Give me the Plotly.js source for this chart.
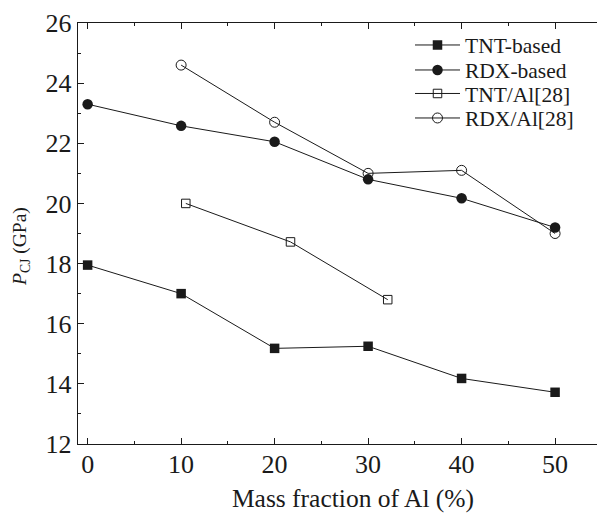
<!DOCTYPE html>
<html><head><meta charset="utf-8">
<script src="https://cdn.plot.ly/plotly-3.0.1.min.js"></script>
<style>html,body{margin:0;background:#fff;overflow:hidden}#chart{width:630px;height:513px}</style>
</head><body><div id="chart"></div>
<script>
const tntX = [0, 10, 20, 30, 40, 50];
const tntY = [17.95, 17.0, 15.18, 15.25, 14.18, 13.72];
const rdxX = [0, 10, 20, 30, 40, 50];
const rdxY = [23.3, 22.58, 22.05, 20.8, 20.17, 19.2];
const tntAlX = [10.5, 21.7, 32.1];
const tntAlY = [20.0, 18.72, 16.8];
const rdxAlX = [10, 20, 30, 40, 50];
const rdxAlY = [24.6, 22.7, 21.0, 21.1, 19.0];
const names = ['TNT-based', 'RDX-based', 'TNT/Al[28]', 'RDX/Al[28]'];
const xTicks = [0, 10, 20, 30, 40, 50];
const yTicks = [12, 14, 16, 18, 20, 22, 24, 26];
const xTitle = 'Mass fraction of Al (%)';
const yTitle = '<i>P</i><sub>CJ</sub> (GPa)';

const ink = '#1a1a1a';
const lineStyle = {color: ink, width: 1};
const traces = [
  {x: tntX, y: tntY, name: names[0], mode: 'lines+markers', line: lineStyle, legend: 'legend',
   marker: {symbol: 'square', size: 9.5, color: ink}},
  {x: rdxX, y: rdxY, name: names[1], mode: 'lines+markers', line: lineStyle, legend: 'legend2',
   marker: {symbol: 'circle', size: 10.5, color: ink}},
  {x: tntAlX, y: tntAlY, name: names[2], mode: 'lines+markers', line: lineStyle, legend: 'legend3',
   marker: {symbol: 'square-open', size: 8.5, color: ink, line: {width: 1}}},
  {x: rdxAlX, y: rdxAlY, name: names[3], mode: 'lines+markers', line: lineStyle, legend: 'legend4',
   marker: {symbol: 'circle-open', size: 10, color: ink, line: {width: 1}}}
];

const fam = '"Liberation Serif", "Times New Roman", serif';
const f = (s) => ({family: fam, size: s, color: ink});
// plot area: left 78px, width 550px; top 23px, height 421px
const px2x = (p) => (p - 78) / 550;
const px2y = (p) => 1 - (p - 23) / 421;
const leg = (yc) => ({x: px2x(410), y: px2y(yc), xanchor: 'left', yanchor: 'middle',
  bgcolor: 'rgba(0,0,0,0)', font: f(21.5), itemwidth: 45, borderwidth: 0});

const layout = {
  width: 630, height: 513,
  margin: {l: 78, r: 2, t: 23, b: 69},
  paper_bgcolor: '#fff', plot_bgcolor: '#fff',
  font: f(24),
  showlegend: true,
  legend: leg(45), legend2: leg(70), legend3: leg(93.5), legend4: leg(118),
  xaxis: {
    range: [-1.03, 57.8], tickvals: xTicks, ticks: 'inside', ticklen: 6,
    tickwidth: 1, tickcolor: ink, showline: true, linecolor: ink, linewidth: 1.2,
    mirror: 'ticks', showgrid: false, zeroline: false, ticklabelstandoff: -3,
    minor: {dtick: 5, tick0: 0, ticks: 'inside', ticklen: 3, tickcolor: ink},
    tickfont: f(26),
    title: {text: xTitle, font: f(25.5), standoff: 14}
  },
  yaxis: {
    range: [12, 26], tickvals: yTicks, ticks: 'inside', ticklen: 6,
    tickwidth: 1, tickcolor: ink, showline: true, linecolor: ink, linewidth: 1.2,
    mirror: 'ticks', showgrid: false, zeroline: false,
    minor: {dtick: 1, tick0: 0, ticks: 'inside', ticklen: 3, tickcolor: ink},
    tickfont: f(26)
  },
  annotations: [{
    text: yTitle, textangle: -90, showarrow: false, font: f(19.5),
    xref: 'paper', yref: 'paper', x: 0, xshift: 21 - 78, xanchor: 'center',
    y: px2y(247), yanchor: 'middle'
  }]
};
Plotly.newPlot('chart', traces, layout, {displayModeBar: false, staticPlot: true});
</script></body></html>
